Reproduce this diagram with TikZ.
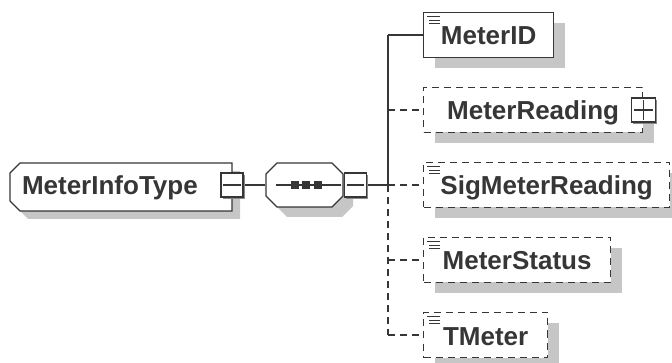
\documentclass[tikz,border=0pt]{standalone}
\usepackage{fontspec}
\newfontface\lbl{Liberation Sans Bold}
\usetikzlibrary{shadows}
\definecolor{ink}{HTML}{363636}
\definecolor{shd}{HTML}{C6C6C6}
\definecolor{shd2}{HTML}{8A8A8A}
\begin{document}
\begin{tikzpicture}[x=1pt,y=-1pt,line width=1.25pt,
  lbltext/.style={font={\fontsize{26}{28}\selectfont\lbl},text=ink,text height=20pt,text depth=0pt,inner sep=0pt},
  bigshadow/.style={drop shadow={shadow xshift=11pt,shadow yshift=-11pt,fill=shd,opacity=1}},
  elem/.style={lbltext,draw=ink,fill=white,minimum height=45pt,anchor=west,bigshadow},
  optelem/.style={elem,dash pattern=on 7pt off 5pt},
  togglebox/.style={draw=ink,fill=white,minimum width=22pt,minimum height=24pt,inner sep=0pt,
    drop shadow={shadow xshift=2pt,shadow yshift=-2pt,fill=shd2,opacity=1}},
  conn/.style={draw=ink},
  optconn/.style={draw=ink,dash pattern=on 7pt off 5pt},
  icon/.style={draw=ink,line width=0.9pt}]
\useasboundingbox (0,0) rectangle (672,363);

% root complex type
\draw[ink,fill=white,drop shadow={shadow xshift=8pt,shadow yshift=-8pt,fill=shd,opacity=1}]
  (20,163) -- (232,163) -- (232,211) -- (20,211) -- (10,201) -- (10,173) -- cycle;
\node[lbltext,text width=198pt,align=left,inner xsep=12pt,minimum height=48pt] (mit) at (121,185) {MeterInfoType};

% sequence compositor
\draw[ink,fill=white,drop shadow={shadow xshift=10pt,shadow yshift=-10pt,fill=shd,opacity=1}]
  (277,163) -- (332,163) -- (343,174) -- (343,196) -- (332,207) -- (277,207) -- (266,196) -- (266,174) -- cycle;
\node[minimum width=77pt,minimum height=44pt,inner sep=0pt] (seq) at (304.5,185) {};
\draw[ink] ([shift={(11,0)}]seq.west) -- ([shift={(-3,0)}]seq.east);
\foreach \cx in {294.5,306,317.5}
  \fill[ink] (\cx-4,181) rectangle (\cx+4,189);

% bus coordinates
\coordinate (jn) at (388,185);
\coordinate (top) at (388,35);
\coordinate (bot) at (388,335);

% connectors
\node[minimum width=22pt,minimum height=24pt,inner sep=0pt] (mitx) at (232,185) {};
\draw[conn] (mitx.center) -- (seq.west);
\draw[conn] (seq.east) -- (jn);
\draw[conn] (top) -- (jn);
\draw[optconn] (jn) -- (bot);

% toggle boxes
\node[togglebox] at (mitx) {};
\draw[ink] ([shift={(3,0)}]mitx.west) -- ([shift={(-3,0)}]mitx.east);
\node[togglebox,anchor=west] (seqx) at (seq.east) {};
\draw[ink] ([shift={(3,0)}]seqx.west) -- ([shift={(-3,0)}]seqx.east);

% child elements
\node[elem,minimum width=130pt] (id) at (423,35) {MeterID};
\node[optelem,minimum width=219pt] (rd) at (423,110) {MeterReading};
\node[optelem,minimum width=246pt] (sig) at (423,185) {SigMeterReading};
\node[optelem,minimum width=187pt] (st) at (423,260) {MeterStatus};
\node[optelem,minimum width=124pt] (tm) at (423,335) {TMeter};

\draw[conn] (jn |- id.west) -- (id.west);
\draw[optconn] (jn |- rd.west) -- (rd.west);
\draw[optconn] (jn) -- (sig.west);
\draw[optconn] (jn |- st.west) -- (st.west);
\draw[optconn] (jn |- tm.west) -- (tm.west);

% expand box on MeterReading
\node[togglebox,minimum width=24pt] (rdx) at (rd.east) {};
\draw[ink] ([shift={(3,0)}]rdx.west) -- ([shift={(-3,0)}]rdx.east);
\draw[ink] ([shift={(0,3)}]rdx.north) -- ([shift={(0,-3)}]rdx.south);

% simple-content icons
\foreach \n in {id,sig,st,tm}{
  \draw[icon] ([shift={(4,5)}]\n.north west) -- +(13,0);
  \draw[icon] ([shift={(6,8.5)}]\n.north west) -- +(11,0);
  \draw[icon] ([shift={(6,12)}]\n.north west) -- +(11,0);
}
\end{tikzpicture}
\end{document}
